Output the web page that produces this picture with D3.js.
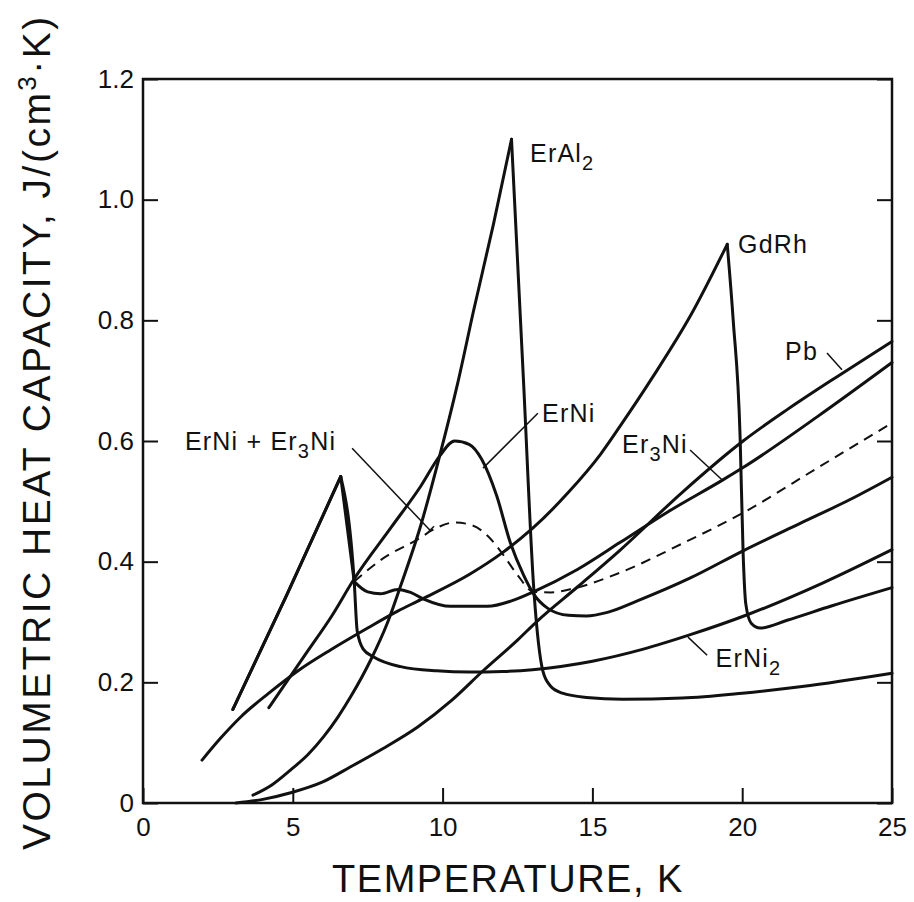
<!DOCTYPE html>
<html>
<head>
<meta charset="utf-8">
<script src="https://cdn.jsdelivr.net/npm/d3@7"></script>
<style>
  body { margin: 0; background: #fff; }
  svg text { font-family: "Liberation Sans", Arial, Helvetica, sans-serif; fill: #111; }
</style>
</head>
<body>
<svg id="chart" width="914" height="902"></svg>
<script>
// tick values
const xTicks = [0, 5, 10, 15, 20, 25];
const yTicks = [0, 0.2, 0.4, 0.6, 0.8, 1.0, 1.2];

// curves: [temperature K, J/(cm3 K)]
const erAl2 = [[3.67,0.013],[4.3,0.03],[4.93,0.055],[5.5,0.08],[6.03,0.11],[6.5,0.142],[6.93,0.176],[7.6,0.237],[8.17,0.3],
  [8.6,0.36],[9.27,0.46],[9.9,0.575],[10.5,0.695],[11.03,0.815],[11.7,0.96],[12.3,1.1],[12.7,0.7],[13.05,0.35],[13.2,0.265],
  [13.35,0.218],[13.6,0.194],[14,0.182],[14.8,0.175],[16,0.172],[18,0.174],[20,0.182],[22,0.193],[25,0.215]];
const gdRh = [[1.97,0.071],[2.6,0.108],[3.27,0.143],[4.2,0.182],[5.2,0.22],[6.27,0.254],[7.5,0.29],[8.5,0.318],[9.27,0.337],
  [10.93,0.38],[12,0.415],[13,0.455],[14.2,0.515],[15.27,0.578],[15.93,0.625],[17,0.705],[18.3,0.81],[19.5,0.926],
  [19.7,0.8],[19.93,0.607],[20.03,0.415],[20.12,0.33],[20.3,0.298],[20.6,0.29],[21.5,0.303],[23,0.327],[25,0.357]];
const erNi = [[4.2,0.158],[5.5,0.252],[6.3,0.31],[7.03,0.37],[8.3,0.458],[9.27,0.525],[9.9,0.575],[10.4,0.6],[10.9,0.594],
  [11.3,0.57],[11.8,0.51],[12.27,0.43],[12.7,0.378],[13.03,0.347],[13.5,0.323],[14.2,0.311],[14.8,0.31],[15.5,0.316],
  [16.5,0.335],[18.27,0.373],[20.03,0.418],[22,0.465],[23.6,0.503],[25,0.54]];
const er3Ni = [[3.0,0.155],[4.8,0.345],[6.6,0.541],[7.05,0.367],[7.5,0.35],[7.93,0.347],[8.5,0.354],[8.93,0.349],[9.37,0.338],
  [10.27,0.326],[11.5,0.326],[12.3,0.335],[13.03,0.35],[14.5,0.387],[15.93,0.432],[17.5,0.482],[19.37,0.536],[20.03,0.556],
  [22.5,0.64],[25,0.73]];
const erNi2 = [[3.0,0.155],[4.8,0.345],[6.6,0.541],[7.05,0.367],[7.15,0.285],[7.35,0.255],[7.7,0.242],[8.6,0.226],[9.8,0.219],
  [10.9,0.217],[12,0.218],[13,0.221],[15,0.235],[16.7,0.255],[18.27,0.279],[20.17,0.312],[22.7,0.365],[25,0.42]];
const erNiEr3Ni = [[7.05,0.367],[8,0.405],[9.17,0.437],[9.8,0.456],[10.4,0.465],[11,0.46],[11.5,0.443],[12,0.413],[12.5,0.378],
  [13.03,0.35],[13.6,0.349],[14.4,0.356],[15.93,0.382],[18,0.43],[20.03,0.481],[22.5,0.555],[25,0.63]];
const pb = [[3.1,0],[4,0.006],[4.93,0.017],[6,0.035],[6.93,0.06],[8,0.09],[9.17,0.126],[10.3,0.17],[11.37,0.22],[12.5,0.27],
  [13.17,0.302],[14.5,0.358],[15.9,0.418],[18,0.515],[20.03,0.6],[21.5,0.652],[23.27,0.71],[25,0.765]];

// label anchors and leader lines, in data units
const labels = [
  { parts: [["ErAl"], ["2", "sub"]], t: 12.92, v: 1.062 },
  { parts: [["GdRh"]], t: 19.86, v: 0.912 },
  { parts: [["Pb"]], t: 21.43, v: 0.734 },
  { parts: [["Er"], ["3", "sub"], ["Ni"]], t: 15.99, v: 0.58 },
  { parts: [["ErNi"]], t: 13.32, v: 0.632 },
  { parts: [["ErNi + Er"], ["3", "sub"], ["Ni"]], t: 1.4, v: 0.585 },
  { parts: [["ErNi"], ["2", "sub"]], t: 19.11, v: 0.225 },
];
const leaders = [
  [[22.83, 0.746], [23.33, 0.718]],
  [[18.26, 0.585], [19.36, 0.534]],
  [[13.18, 0.646], [11.35, 0.555]],
  [[6.98, 0.588], [9.58, 0.452]],
  [[18.19, 0.275], [18.83, 0.245]],
];

const series = [
  { data: erAl2, sharp: [12.3] },
  { data: gdRh, sharp: [19.5] },
  { data: erNi, sharp: [] },
  { data: er3Ni, sharp: [6.6, 7.05] },
  { data: erNi2, sharp: [6.6] },
  { data: pb, sharp: [] },
  { data: erNiEr3Ni, sharp: [], dashed: true },
];

const svg = d3.select('#chart');
const x = d3.scaleLinear().domain([0, 25]).range([143, 892]);
const y = d3.scaleLinear().domain([0, 1.2]).range([803, 79]);

// axes (ticks point inward)
svg.append('g')
  .attr('transform', `translate(0,${y(0)})`)
  .call(d3.axisBottom(x).tickValues(xTicks).tickSize(-15).tickPadding(15).tickFormat(d3.format('d')))
  .call(g => g.select('.domain').remove())
  .call(g => g.selectAll('line').attr('stroke', '#111').attr('stroke-width', 2))
  .call(g => g.selectAll('text').attr('font-size', 26).attr('fill', '#111'));

svg.append('g')
  .attr('transform', `translate(${x(0)},0)`)
  .call(d3.axisLeft(y).tickValues(yTicks).tickSize(-15).tickPadding(9).tickFormat(d => d === 0 ? '0' : d3.format('.1f')(d)))
  .call(g => g.select('.domain').remove())
  .call(g => g.selectAll('line').attr('stroke', '#111').attr('stroke-width', 2))
  .call(g => g.selectAll('text').attr('font-size', 26).attr('fill', '#111'));

svg.append('g')
  .attr('transform', `translate(${x(25)},0)`)
  .call(d3.axisRight(y).tickValues(yTicks).tickSize(-15).tickFormat(''))
  .call(g => g.select('.domain').remove())
  .call(g => g.selectAll('line').attr('stroke', '#111').attr('stroke-width', 2));

// frame
svg.append('rect')
  .attr('x', x(0)).attr('y', y(1.2))
  .attr('width', x(25) - x(0)).attr('height', y(0) - y(1.2))
  .attr('fill', 'none').attr('stroke', '#111').attr('stroke-width', 2.5);

// split a curve at its sharp corners so the peaks stay pointed
function pieces(data, sharp) {
  const out = [];
  let cur = [];
  data.forEach(p => {
    cur.push(p);
    if (sharp.includes(p[0]) && cur.length > 1) { out.push(cur); cur = [p]; }
  });
  if (cur.length > 1) out.push(cur);
  return out;
}

const line = d3.line()
  .x(d => x(d[0]))
  .y(d => y(d[1]))
  .curve(d3.curveMonotoneX);

const curves = svg.append('g').attr('fill', 'none').attr('stroke', '#111').attr('stroke-linejoin', 'round');
series.forEach(s => {
  pieces(s.data, s.sharp).forEach(seg => {
    curves.append('path')
      .attr('d', line(seg))
      .attr('stroke-width', s.dashed ? 2 : 3)
      .attr('stroke-dasharray', s.dashed ? '10,7' : null)
      .attr('stroke-linecap', s.dashed ? 'butt' : 'round');
  });
});

// leader lines
svg.append('g').selectAll('line')
  .data(leaders)
  .enter()
  .append('line')
  .attr('x1', d => x(d[0][0])).attr('y1', d => y(d[0][1]))
  .attr('x2', d => x(d[1][0])).attr('y2', d => y(d[1][1]))
  .attr('stroke', '#111').attr('stroke-width', 1.5);

// small cross tick at the end of the ErNi + Er3Ni leader
const lEnd = leaders[3][1];
svg.append('line')
  .attr('x1', x(lEnd[0]) - 4).attr('y1', y(lEnd[1]) + 4)
  .attr('x2', x(lEnd[0]) + 4).attr('y2', y(lEnd[1]) - 4)
  .attr('stroke', '#111').attr('stroke-width', 1.5);

// curve labels
labels.forEach(l => {
  const t = svg.append('text')
    .attr('x', x(l.t)).attr('y', y(l.v))
    .attr('font-size', 25)
    .attr('letter-spacing', 1.2);
  l.parts.forEach(p => {
    if (p[1] === 'sub') {
      t.append('tspan').attr('dy', 8).attr('font-size', 20).text(p[0]);
    } else {
      const ts = t.append('tspan').text(p[0]);
      if (t.selectAll('tspan').size() > 1) ts.attr('dy', -8);
    }
  });
});

// axis titles
svg.append('text')
  .attr('x', 508).attr('y', 892)
  .attr('text-anchor', 'middle')
  .attr('font-size', 38)
  .attr('letter-spacing', 1.5)
  .text('TEMPERATURE, K');

const yt = svg.append('text')
  .attr('transform', 'translate(50,850) rotate(-90)')
  .attr('font-size', 39)
  .attr('letter-spacing', 2.5);
yt.append('tspan').text('VOLUMETRIC HEAT CAPACITY, J/(cm');
yt.append('tspan').attr('dy', -14).attr('font-size', 26).text('3');
yt.append('tspan').attr('dy', 14).text('\u00b7K)');
</script>
</body>
</html>
